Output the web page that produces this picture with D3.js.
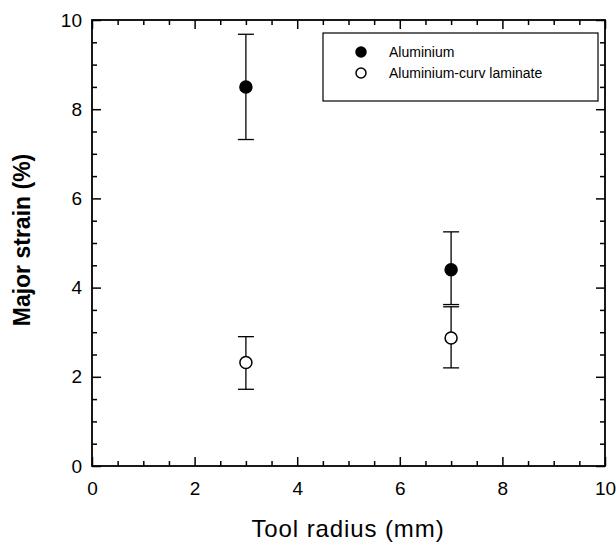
<!DOCTYPE html>
<html>
<head>
<meta charset="utf-8">
<script src="https://cdn.jsdelivr.net/npm/d3@7"></script>
<style>
  body { margin: 0; background: #fff; }
  svg { font-family: "Liberation Sans", Arial, sans-serif; }
</style>
</head>
<body>
<div id="root"></div>
<script>
// data
const seriesNames = ["Aluminium", "Aluminium-curv laminate"];
const toolRadius = [3, 7];
const aluMean = [8.5, 4.4];
const aluLow = [7.32, 3.62];
const aluHigh = [9.68, 5.25];
const lamMean = [2.32, 2.87];
const lamLow = [1.72, 2.2];
const lamHigh = [2.9, 3.57];
const xTicks = [0, 2, 4, 6, 8, 10];
const yTicks = [0, 2, 4, 6, 8, 10];

const W = 616, H = 542;
const margin = { top: 20, right: 11, bottom: 76, left: 92 };
const width = W - margin.left - margin.right;
const height = H - margin.top - margin.bottom;

const x = d3.scaleLinear().domain([0, 10]).range([0, width]);
const y = d3.scaleLinear().domain([0, 10]).range([height, 0]);

const svg = d3
  .select("#root")
  .append("svg")
  .attr("width", W)
  .attr("height", H);

const g = svg.append("g").attr("transform", `translate(${margin.left}, ${margin.top})`);

const minorX = d3.range(0, 10.01, 0.5).filter((d) => d % 2 !== 0);
const minorY = d3.range(0, 10.01, 0.5).filter((d) => d % 2 !== 0);

function styleAxis(sel) {
  sel.select(".domain").remove();
  sel.selectAll("line").attr("stroke", "#000").attr("stroke-width", 1.5);
  sel.selectAll("text").attr("font-size", "19px").attr("fill", "#000");
}

// major ticks, inward
g.append("g")
  .attr("transform", `translate(0, ${height})`)
  .call(d3.axisBottom(x).tickValues(xTicks).tickSize(-9).tickPadding(16).tickFormat(d3.format("d")))
  .call(styleAxis);
g.append("g")
  .call(d3.axisLeft(y).tickValues(yTicks).tickSize(-9).tickPadding(10).tickFormat(d3.format("d")))
  .call(styleAxis);
g.append("g")
  .call(d3.axisTop(x).tickValues(xTicks).tickSize(-9).tickFormat(""))
  .call(styleAxis);
g.append("g")
  .attr("transform", `translate(${width}, 0)`)
  .call(d3.axisRight(y).tickValues(yTicks).tickSize(-9).tickFormat(""))
  .call(styleAxis);

// minor ticks
g.append("g")
  .attr("transform", `translate(0, ${height})`)
  .call(d3.axisBottom(x).tickValues(minorX).tickSize(-5).tickFormat(""))
  .call(styleAxis);
g.append("g")
  .call(d3.axisTop(x).tickValues(minorX).tickSize(-5).tickFormat(""))
  .call(styleAxis);
g.append("g")
  .call(d3.axisLeft(y).tickValues(minorY).tickSize(-5).tickFormat(""))
  .call(styleAxis);
g.append("g")
  .attr("transform", `translate(${width}, 0)`)
  .call(d3.axisRight(y).tickValues(minorY).tickSize(-5).tickFormat(""))
  .call(styleAxis);

// frame
g.append("rect")
  .attr("width", width)
  .attr("height", height)
  .attr("fill", "none")
  .attr("stroke", "#000")
  .attr("stroke-width", 1.8);

const series = [
  { name: seriesNames[0], mean: aluMean, low: aluLow, high: aluHigh, fill: "#000" },
  { name: seriesNames[1], mean: lamMean, low: lamLow, high: lamHigh, fill: "#fff" },
];

const capW = 8;
series.forEach((s) => {
  const pts = toolRadius.map((r, i) => ({ x: r, m: s.mean[i], lo: s.low[i], hi: s.high[i] }));
  const eg = g.append("g");
  eg.selectAll(".stem")
    .data(pts)
    .enter()
    .append("line")
    .attr("x1", (d) => x(d.x))
    .attr("x2", (d) => x(d.x))
    .attr("y1", (d) => y(d.lo))
    .attr("y2", (d) => y(d.hi))
    .attr("stroke", "#000")
    .attr("stroke-width", 1.3);
  ["lo", "hi"].forEach((k) => {
    eg.selectAll(".cap-" + k)
      .data(pts)
      .enter()
      .append("line")
      .attr("x1", (d) => x(d.x) - capW)
      .attr("x2", (d) => x(d.x) + capW)
      .attr("y1", (d) => y(d[k]))
      .attr("y2", (d) => y(d[k]))
      .attr("stroke", "#000")
      .attr("stroke-width", 1.3);
  });
});

series.forEach((s) => {
  g.append("g")
    .selectAll("circle")
    .data(toolRadius.map((r, i) => ({ x: r, m: s.mean[i] })))
    .enter()
    .append("circle")
    .attr("cx", (d) => x(d.x))
    .attr("cy", (d) => y(d.m))
    .attr("r", 6)
    .attr("fill", s.fill)
    .attr("stroke", "#000")
    .attr("stroke-width", 1.5);
});

// legend
const lg = svg.append("g").attr("transform", "translate(323, 33)");
lg.append("rect")
  .attr("width", 275)
  .attr("height", 68)
  .attr("fill", "#fff")
  .attr("stroke", "#000")
  .attr("stroke-width", 1.2);
series.forEach((s, i) => {
  lg.append("circle")
    .attr("cx", 38)
    .attr("cy", 19 + i * 21)
    .attr("r", 5)
    .attr("fill", s.fill)
    .attr("stroke", "#000")
    .attr("stroke-width", 1.5);
  lg.append("text")
    .attr("x", 66)
    .attr("y", 24 + i * 21)
    .attr("font-size", "14px")
    .attr("fill", "#000")
    .text(s.name);
});

// axis titles
svg.append("text")
  .attr("x", 348)
  .attr("y", 537)
  .attr("text-anchor", "middle")
  .attr("font-size", "24px")
  .attr("letter-spacing", "0.9px")
  .attr("fill", "#000")
  .text("Tool radius (mm)");

svg.append("text")
  .attr("transform", `translate(30, 240) rotate(-90)`)
  .attr("text-anchor", "middle")
  .attr("font-size", "23px")
  .attr("font-weight", "bold")
  .attr("fill", "#000")
  .text("Major strain (%)");
</script>
</body>
</html>
